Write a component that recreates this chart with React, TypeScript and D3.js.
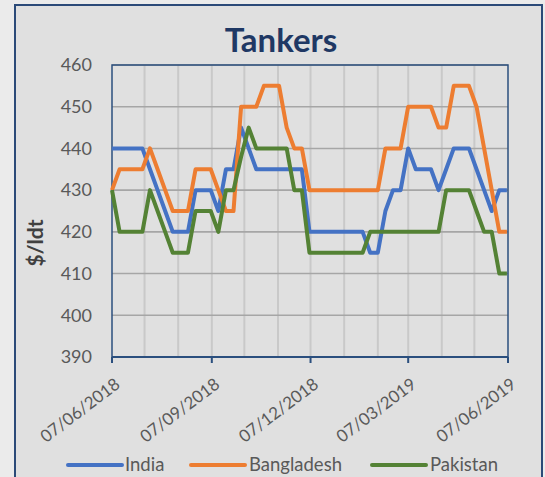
import * as d3 from "d3";

// weekly observations, starting 07/06/2018
const startDate = new Date(2018, 5, 7);
const endDate = new Date(2019, 5, 7);

const india = [
  440, 440, 440, 440, 440, 435, 430, 425, 420, 420, 420, 430, 430, 430, 425, 435, 435, 445,
  440, 435, 435, 435, 435, 435, 435, 435, 420, 420, 420, 420, 420, 420, 420, 420, 415, 415,
  425, 430, 430, 440, 435, 435, 435, 430, 435, 440, 440, 440, 435, 430, 425, 430, 430,
];
const bangladesh = [
  430, 435, 435, 435, 435, 440, 435, 430, 425, 425, 425, 435, 435, 435, 430, 425, 425, 450,
  450, 450, 455, 455, 455, 445, 440, 440, 430, 430, 430, 430, 430, 430, 430, 430, 430, 430,
  440, 440, 440, 450, 450, 450, 450, 445, 445, 455, 455, 455, 450, 440, 430, 420, 420,
];
const pakistan = [
  430, 420, 420, 420, 420, 430, 425, 420, 415, 415, 415, 425, 425, 425, 420, 430, 430, 438,
  445, 440, 440, 440, 440, 440, 430, 430, 415, 415, 415, 415, 415, 415, 415, 415, 420, 420,
  420, 420, 420, 420, 420, 420, 420, 420, 430, 430, 430, 430, 425, 420, 420, 410, 410,
];

const seriesNames = ["India", "Bangladesh", "Pakistan"];
const seriesColors = ["#4472c4", "#ed7d31", "#548235"];
const yTicks = [390, 400, 410, 420, 430, 440, 450, 460];
const xTickLabels = ["07/06/2018", "07/09/2018", "07/12/2018", "07/03/2019", "07/06/2019"];

const W = 545;
const H = 477;
const margin = { left: 112, right: 37, top: 65, bottom: 120 };

const fmt = d3.timeFormat("%d/%m/%Y");
const parse = d3.timeParse("%d/%m/%Y");

export default function App() {
  const dates = india.map((_, i) => d3.timeDay.offset(startDate, i * 7));
  const x = d3.scaleTime().domain([startDate, endDate]).range([margin.left, W - margin.right]);
  const y = d3.scaleLinear().domain([390, 460]).range([H - margin.bottom, margin.top]);

  const monthLines = d3.range(1, 12).map((m) => d3.timeMonth.offset(startDate, m));
  const quarterTicks = xTickLabels.map((s) => parse(s) as Date);

  const line = d3
    .line<number>()
    .x((_, i) => x(dates[i]))
    .y((d) => y(d));

  const allSeries = [india, bangladesh, pakistan];
  const font = "Lato, 'Open Sans', sans-serif";
  const legendPos = [
    { x0: 68, x1: 122, tx: 125 },
    { x0: 191, x1: 245, tx: 249 },
    { x0: 372, x1: 426, tx: 430 },
  ];

  const [x0, x1] = x.range();
  const [yb, yt] = y.range();

  return (
    <svg
      width={W}
      height={H}
      style={{ position: "absolute", left: 0, top: 0, fontFamily: font }}
    >
      <rect x={0} y={0} width={W} height={H} fill="#ebebeb" />
      <rect x={15} y={5} width={527} height={473} fill="#e0e0e0" stroke="#2b4a78" strokeWidth={2} />

      <text x={281} y={52} textAnchor="middle" fontSize={33} fontWeight="bold" fill="#1f3864">
        Tankers
      </text>

      {/* monthly gridlines */}
      {monthLines.map((d, i) => (
        <line key={i} x1={x(d)} x2={x(d)} y1={yt} y2={yb} stroke="#c9c9c9" strokeWidth={2} />
      ))}
      {yTicks.map((t) => (
        <line key={t} x1={x0} x2={x1} y1={y(t)} y2={y(t)} stroke="#a6a6a6" strokeWidth={1.6} />
      ))}

      <rect x={x0} y={yt} width={x1 - x0} height={yb - yt} fill="none" stroke="#2b4f7e" strokeWidth={1.5} />
      <line x1={x0} x2={x1} y1={yb} y2={yb} stroke="#2b4f7e" strokeWidth={2} />

      {quarterTicks.map((d, i) => (
        <line key={i} x1={x(d)} x2={x(d)} y1={yb} y2={yb + 6} stroke="#2b4f7e" strokeWidth={2} />
      ))}

      {yTicks.map((t) => (
        <text key={t} x={92} y={y(t)} dy="0.35em" textAnchor="end" fontSize={18} fill="#595959">
          {t}
        </text>
      ))}

      {quarterTicks.map((d, i) => (
        <text
          key={i}
          transform={`translate(${x(d) + 2},${yb + 20}) rotate(-37)`}
          textAnchor="end"
          dy="0.7em"
          fontSize={17}
          fill="#595959"
        >
          {fmt(d)}
        </text>
      ))}

      <text
        transform="translate(43,243) rotate(-90)"
        textAnchor="middle"
        fontSize={21}
        fontWeight="bold"
        fill="#404040"
      >
        $/ldt
      </text>

      {allSeries.map((s, i) => (
        <path
          key={seriesNames[i]}
          d={line(s) || ""}
          fill="none"
          stroke={seriesColors[i]}
          strokeWidth={4}
          strokeLinejoin="round"
        />
      ))}

      {seriesNames.map((n, i) => (
        <g key={n}>
          <line
            x1={legendPos[i].x0}
            x2={legendPos[i].x1}
            y1={465}
            y2={465}
            stroke={seriesColors[i]}
            strokeWidth={4}
            strokeLinecap="round"
          />
          <text x={legendPos[i].tx} y={465} dy="0.35em" fontSize={18.5} fill="#595959">
            {n}
          </text>
        </g>
      ))}
    </svg>
  );
}
